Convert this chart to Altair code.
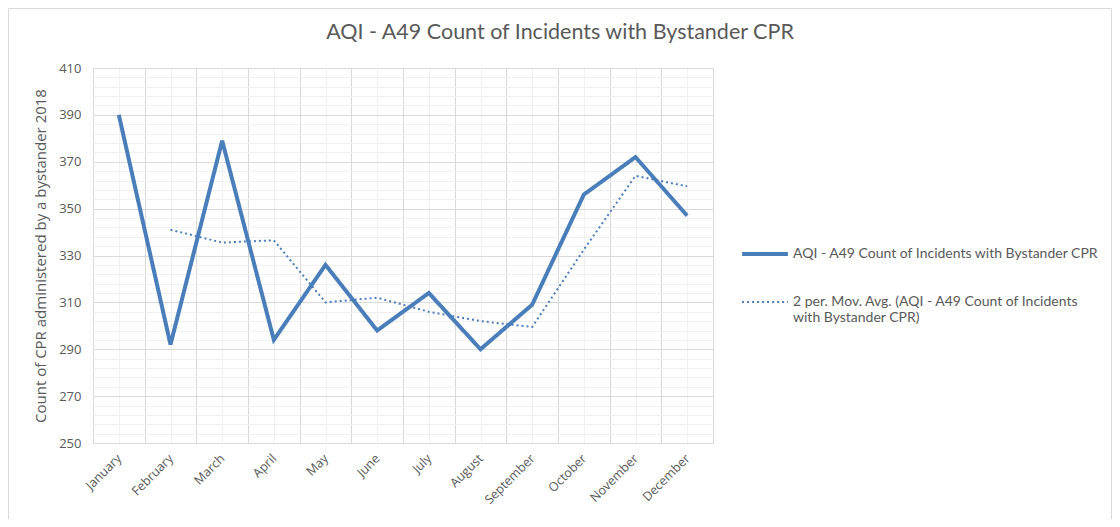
import altair as alt
import pandas as pd

months = ["January", "February", "March", "April", "May", "June", "July",
          "August", "September", "October", "November", "December"]
counts = [390, 292, 379, 294, 326, 298, 314, 290, 309, 356, 372, 347]
mov_avg = [None, 341, 335.5, 336.5, 310, 312, 306, 302, 299.5, 332.5, 364, 359.5]

S1 = "AQI - A49 Count of Incidents with Bystander CPR"
S2 = "2 per. Mov. Avg. (AQI - A49 Count of Incidents with Bystander CPR)"

rows = []
for i, m in enumerate(months):
    rows.append({"idx": i, "month": m, "value": counts[i], "series": S1})
for i, m in enumerate(months):
    if mov_avg[i] is not None:
        rows.append({"idx": i, "month": m, "value": mov_avg[i], "series": S2})
df = pd.DataFrame(rows)

BLUE = "#4a7ebb"
TXT = "#595959"
MAJOR = "#d9d9d9"
MINOR = "#f0f0f0"

xscale = alt.Scale(domain=[-0.5, 11.5], nice=False, zero=False)
yscale = alt.Scale(domain=[250, 410], nice=False, zero=False)

month_expr = "[" + ",".join("'%s'" % m for m in months) + "][datum.value]"

minor = alt.Chart(df).mark_line(opacity=0).encode(
    x=alt.X("idx:Q", scale=xscale,
            axis=alt.Axis(values=list(range(12)), labels=False, ticks=False, domain=False,
                          grid=True, gridColor=MINOR, title=None, orient="bottom")),
    y=alt.Y("value:Q", scale=yscale,
            axis=alt.Axis(values=list(range(250, 411, 4)), labels=False, ticks=False,
                          domain=False, grid=True, gridColor=MINOR, title=None, orient="left")),
    detail="series:N",
)

major = alt.Chart(df).mark_line(opacity=0).encode(
    x=alt.X("idx:Q", scale=xscale,
            axis=alt.Axis(values=[i - 0.5 for i in range(13)], labels=False, ticks=False,
                          domain=True, domainColor=MAJOR, grid=True, gridColor=MAJOR,
                          title=None, orient="bottom")),
    y=alt.Y("value:Q", scale=yscale,
            axis=alt.Axis(values=list(range(250, 411, 20)), labels=False, ticks=False,
                          domain=False, grid=True, gridColor=MAJOR, title=None, orient="left")),
    detail="series:N",
)

lab_expr = ("datum.label == '%s' ? ['2 per. Mov. Avg. (AQI - A49 Count of Incidents', "
            "'with Bystander CPR)'] : datum.label") % S2

def leg():
    return alt.Legend(title=None, orient="none", legendX=647, legendY=161,
                      symbolType="stroke", symbolSize=2100,
                      labelExpr=lab_expr, labelFont="Lato",
                      labelFontSize=14, labelColor=TXT, labelOffset=3,
                      labelLimit=400, rowPadding=16, labelBaseline="middle")

lines = alt.Chart(df).mark_line(strokeCap="butt").encode(
    x=alt.X("idx:Q", scale=xscale,
            axis=alt.Axis(values=list(range(12)), labelExpr=month_expr, labelAngle=-45,
                          labelAlign="right", labelBaseline="middle", labelPadding=13,
                          labelOverlap=False, labelBound=False, labelFlush=False,
                          ticks=False, domain=False, grid=False, title=None, orient="bottom",
                          labelColor=TXT, labelFont="Open Sans", labelFontSize=12.5)),
    y=alt.Y("value:Q", scale=yscale,
            axis=alt.Axis(values=list(range(250, 411, 20)), ticks=False, domain=False,
                          grid=False, labelPadding=12, labelColor=TXT, labelFont="Open Sans",
                          labelFontSize=13, orient="left",
                          title="Count of CPR administered by a bystander 2018",
                          titleColor=TXT, titleFont="Open Sans", titleFontSize=15,
                          titleFontWeight="normal", titlePadding=10)),
    color=alt.Color("series:N", scale=alt.Scale(domain=[S1, S2], range=[BLUE, BLUE]),
                    legend=leg()),
    strokeDash=alt.StrokeDash("series:N", scale=alt.Scale(domain=[S1, S2], range=[[1, 0], [2, 3]]),
                              legend=leg()),
    strokeWidth=alt.StrokeWidth("series:N", scale=alt.Scale(domain=[S1, S2], range=[4, 2]),
                                legend=leg()),
    detail="series:N",
)

border = alt.Chart(pd.DataFrame({"a": [0]})).mark_rect(
    filled=False, stroke=MAJOR, strokeWidth=1).encode(
    x=alt.value(-84.5), x2=alt.value(1018.5), y=alt.value(-59.5), y2=alt.value(600))

chart = alt.layer(minor, major, lines, border).resolve_axis(
    x="independent", y="independent"
).properties(
    width=620, height=375,
    title=alt.TitleParams(S1, font="Lato", fontSize=21.5, fontWeight="normal", color=TXT,
                          anchor="middle", dx=157, offset=-35),
    autosize=alt.AutoSizeParams(type="none"),
    padding={"left": 85, "top": 60, "right": 399, "bottom": 76},
).configure_view(stroke=MAJOR).configure(background="white")

chart.save("out.html", embed_options={"renderer": "svg", "actions": False})
